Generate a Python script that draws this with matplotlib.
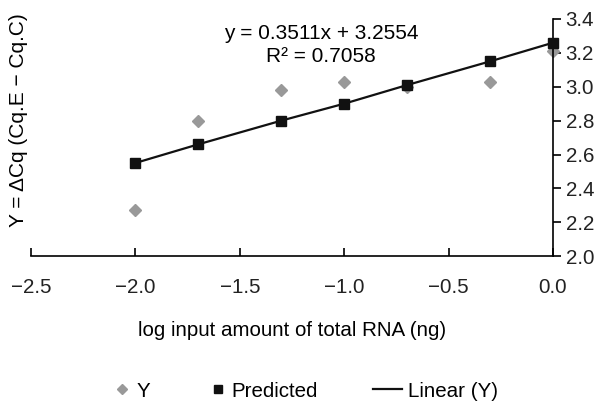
import matplotlib.pyplot as plt
from matplotlib.lines import Line2D

plt.rcParams['font.family'] = ['Liberation Sans', 'DejaVu Sans']

# log input amount (ng)
log_input = [-2.0, -1.699, -1.301, -1.0, -0.699, -0.301, 0.0]
y_obs = [2.27, 2.80, 2.98, 3.03, 3.00, 3.03, 3.21]
y_pred = [2.55, 2.66, 2.80, 2.90, 3.01, 3.15, 3.26]
y_ticks = [2.0, 2.2, 2.4, 2.6, 2.8, 3.0, 3.2, 3.4]
x_ticks = [-2.5, -2.0, -1.5, -1.0, -0.5, 0.0]

fs = 14.8

fig = plt.figure(figsize=(6.01, 4.04), dpi=100)
ax = fig.add_axes([0.0516, 0.366, 0.8686, 0.587])

ax.plot(log_input, y_obs, linestyle='none', marker='D', markersize=6,
        color='#999999', zorder=2, clip_on=False)
ax.plot(log_input, y_pred, color='#111111', linewidth=1.6, zorder=3, clip_on=False)
ax.plot(log_input, y_pred, linestyle='none', marker='s', markersize=7.5,
        color='#111111', zorder=4, clip_on=False)

ax.set_xlim(-2.5, 0.0)
ax.set_ylim(2.0, 3.4)
ax.set_xticks(x_ticks)
ax.set_xticklabels(['\u22122.5', '\u22122.0', '\u22121.5', '\u22121.0', '\u22120.5', '0.0'])
ax.set_yticks(y_ticks)
ax.set_yticklabels([f'{v:.1f}' for v in y_ticks])

ax.spines['left'].set_visible(False)
ax.spines['top'].set_visible(False)
ax.spines['bottom'].set_linewidth(1.2)
ax.spines['right'].set_linewidth(1.2)
ax.yaxis.tick_right()
ax.tick_params(axis='y', direction='out', length=6, width=1.2, labelsize=fs, pad=3)
ax.tick_params(axis='x', direction='in', length=6, width=1.2, labelsize=fs, pad=16)
for lab in ax.get_xticklabels() + ax.get_yticklabels():
    lab.set_color('#222222')

fig.text(0.486, 0.183, 'log input amount of total RNA (ng)', ha='center', va='center',
         fontsize=fs)

fig.text(0.03, 0.703, 'Y = \u0394Cq (Cq.E \u2212 Cq.C)', rotation=90,
         ha='center', va='center', fontsize=15)

fig.text(0.534, 0.918, 'y = 0.3511x + 3.2554', ha='center', va='center', fontsize=15)
fig.text(0.534, 0.859, 'R\u00b2 = 0.7058', ha='center', va='center', fontsize=15)

entries = [
    (Line2D([], [], linestyle='none', marker='D', markersize=5, color='#999999'),
     'Y', 0.8, 0.30, 114),
    (Line2D([], [], linestyle='none', marker='s', markersize=5.5, color='#111111'),
     'Predicted', 0.8, 0.25, 210),
    (Line2D([], [], color='#111111', linewidth=1.6),
     'Linear (Y)', 1.4, 0.3, 373),
]
for handle, label, hl, pad, xpx in entries:
    leg = fig.legend([handle], [label], loc='center left',
                     bbox_to_anchor=(xpx / 601, 0.032), frameon=False, fontsize=fs,
                     handlelength=hl, handletextpad=pad, borderpad=0,
                     borderaxespad=0)

fig.savefig('out.png', dpi=100)
